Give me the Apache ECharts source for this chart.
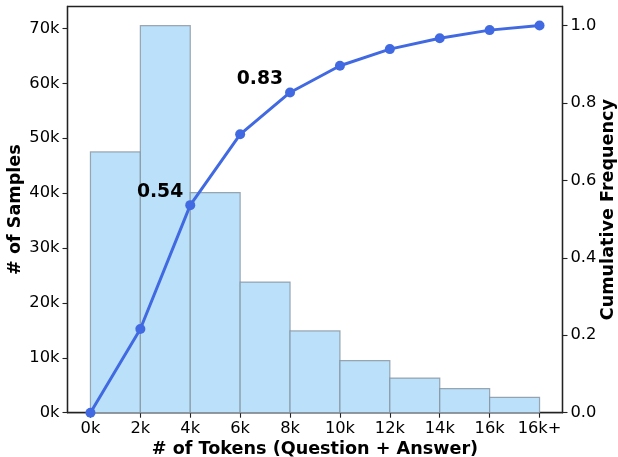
<!DOCTYPE html>
<html>
<head>
<meta charset="utf-8">
<script src="https://cdn.jsdelivr.net/npm/echarts@6/dist/echarts.min.js"></script>
<style>html,body{margin:0;padding:0;background:#fff}#c{width:618px;height:457px}</style>
</head>
<body>
<div id="c"></div>
<script>
// Tick labels for bin edges
var tickLabels = ['0k','2k','4k','6k','8k','10k','12k','14k','16k','16k+'];
// Histogram counts per bin (bins between consecutive tick labels)
var binCounts = [47500, 70500, 40100, 23800, 14900, 9500, 6300, 4400, 2800];
// Cumulative frequency at each tick label
var cumFreq = [0.0, 0.216, 0.536, 0.719, 0.827, 0.896, 0.939, 0.967, 0.988, 1.0];
// Annotated points (index into cumFreq) and their labels
var annotIdx = [2, 4];
var annotText = ['0.54', '0.83'];

var FONT = 'DejaVu Sans';
var chart = echarts.init(document.getElementById('c'), null, {renderer: 'canvas'});

var barData = binCounts.map(function (v, i) { return [i, i + 1, v]; });
var lineData = cumFreq.map(function (v, i) {
  var k = annotIdx.indexOf(i);
  var item = {value: [i, v]};
  if (k >= 0) {
    item.label = {show: true, formatter: annotText[k]};
  }
  return item;
});
var tickPos = tickLabels.map(function (_, i) { return i; });

var titleStyle = {fontFamily: FONT, fontSize: 17.6, fontWeight: 'bold', color: '#000'};
var tickFont = {fontFamily: FONT, fontSize: 16.3, color: '#000'};

var option = {
  animation: false,
  backgroundColor: '#fff',
  grid: {left: 67.5, right: 55.5, top: 6.5, bottom: 44.3, outerBoundsMode: 'none', containLabel: false,
    show: true, borderColor: '#222', borderWidth: 1.3, backgroundColor: 'transparent'},
  xAxis: {
    type: 'value', min: -0.46, max: 9.46,
    name: '# of Tokens (Question + Answer)', nameLocation: 'middle', nameGap: 28, nameMoveOverlap: false,
    nameTextStyle: titleStyle,
    axisLine: {show: true, onZero: false, lineStyle: {color: '#222', width: 1.3}},
    axisTick: {show: true, length: 5, lineStyle: {color: '#222', width: 1.1}, customValues: tickPos},
    axisLabel: Object.assign({margin: 8, customValues: tickPos,
      formatter: function (v) { return tickLabels[Math.round(v)]; }}, tickFont),
    splitLine: {show: false}
  },
  yAxis: [{
    type: 'value', min: 0, max: 74000, interval: 10000,
    name: '# of Samples', nameLocation: 'middle', nameGap: 43, nameMoveOverlap: false,
    nameTextStyle: titleStyle,
    axisLine: {show: true, onZero: false, lineStyle: {color: '#222', width: 1.3}},
    axisTick: {show: true, length: 5, lineStyle: {color: '#222', width: 1.1}},
    axisLabel: Object.assign({margin: 8, showMaxLabel: false,
      formatter: function (v) { return Math.round(v / 1000) + 'k'; }}, tickFont),
    splitLine: {show: false}
  }, {
    type: 'value', min: 0, max: 1.049, interval: 0.2, position: 'right',
    name: 'Cumulative Frequency', nameLocation: 'middle', nameGap: 37, nameMoveOverlap: false,
    nameRotate: 90,
    nameTextStyle: titleStyle,
    axisLine: {show: true, onZero: false, lineStyle: {color: '#222', width: 1.3}},
    axisTick: {show: true, length: 5, lineStyle: {color: '#222', width: 1.1}},
    axisLabel: Object.assign({margin: 8, showMaxLabel: false,
      formatter: function (v) { return v.toFixed(1); }}, tickFont),
    splitLine: {show: false}
  }],
  series: [{
    type: 'custom',
    yAxisIndex: 0,
    data: barData,
    renderItem: function (params, api) {
      var p0 = api.coord([api.value(0), api.value(2)]);
      var p1 = api.coord([api.value(1), 0]);
      return {
        type: 'rect',
        shape: {x: p0[0], y: p0[1], width: p1[0] - p0[0], height: p1[1] - p0[1]},
        style: {fill: '#bae0fa', stroke: 'rgba(128,140,152,0.75)', lineWidth: 1.2}
      };
    },
    encode: {x: [0, 1], y: 2},
    z: 1
  }, {
    type: 'line',
    yAxisIndex: 1,
    data: lineData,
    symbol: 'circle', symbolSize: 10,
    lineStyle: {color: '#4169e1', width: 3},
    itemStyle: {color: '#4169e1'},
    label: {show: false, position: 'left', distance: 0, offset: [-2, -13],
      fontFamily: FONT, fontSize: 18.8, fontWeight: 'bold', color: '#000', opacity: 1,
      textBorderWidth: 0},
    z: 3
  }]
};
chart.setOption(option);
</script>
</body>
</html>
